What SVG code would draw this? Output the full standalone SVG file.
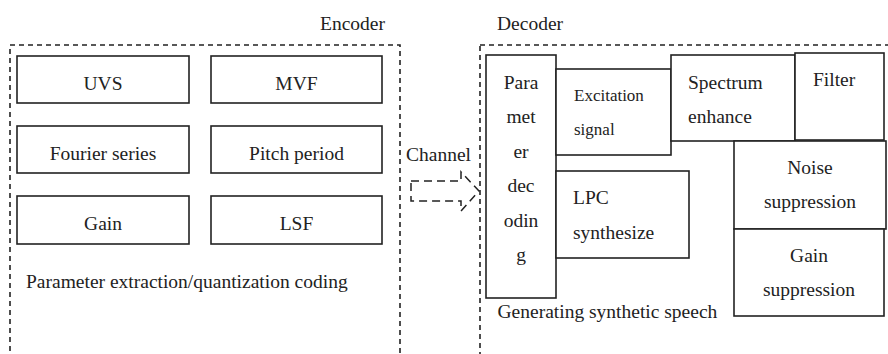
<svg xmlns="http://www.w3.org/2000/svg" width="888" height="354" viewBox="0 0 888 354">
<style>
.t{font-family:'Liberation Serif','Times New Roman',Tinos,'Noto Serif','DejaVu Serif',serif;font-size:19.5px;fill:#222}
.sm{font-family:'Liberation Serif','Times New Roman',Tinos,'Noto Serif','DejaVu Serif',serif;font-size:17px;fill:#222}
.mid{text-anchor:middle}
.box{fill:#fff;stroke:#222;stroke-width:1.6}
.frame{fill:none;stroke:#222;stroke-width:1.6;stroke-dasharray:5 4}
.arrow{fill:none;stroke:#222;stroke-width:1.5;stroke-dasharray:8 5}
</style>
<rect width="888" height="354" fill="#fff"/>
<g id="encoder">
<rect class="frame" x="10" y="45" width="390" height="330"/>
<text class="t" x="320" y="29.5">Encoder</text>
<text class="t" x="26" y="287.5">Parameter extraction/quantization coding</text>
</g>
<g id="uvs"><rect class="box" x="17" y="56" width="172" height="47"/><text class="t mid" x="103" y="89.5">UVS</text></g>
<g id="mvf"><rect class="box" x="211" y="56" width="171" height="47"/><text class="t mid" x="296.5" y="89.5">MVF</text></g>
<g id="fourier"><rect class="box" x="17" y="126" width="172" height="47"/><text class="t mid" x="103" y="159.5">Fourier series</text></g>
<g id="pitch"><rect class="box" x="211" y="126" width="171" height="47"/><text class="t mid" x="296.5" y="159.5">Pitch period</text></g>
<g id="gain"><rect class="box" x="17" y="196" width="172" height="48"/><text class="t mid" x="103" y="229.5">Gain</text></g>
<g id="lsf"><rect class="box" x="211" y="196" width="171" height="48"/><text class="t mid" x="296.5" y="229.5">LSF</text></g>
<g id="decoder">
<rect class="frame" x="480" y="45" width="420" height="330"/>
<text class="t" x="497" y="29.5">Decoder</text>
<text class="t" x="497.5" y="317.5">Generating synthetic speech</text>
</g>
<g id="connectors">
<text class="t" x="406" y="160.5">Channel</text>
<polygon class="arrow" points="411,181 461,181 461,172 479,191 461,211 461,201 411,201"/>
</g>
<g id="param"><rect class="box" x="486" y="55" width="70" height="243"/>
<text class="t mid" x="521" y="88.5">Para</text><text class="t mid" x="521" y="123">met</text><text class="t mid" x="521" y="157.5">er</text><text class="t mid" x="521" y="192">dec</text><text class="t mid" x="521" y="226.5">odin</text><text class="t mid" x="521" y="261">g</text></g>
<g id="excitation"><rect class="box" x="556" y="69" width="115" height="86"/><text class="sm" x="574" y="101">Excitation</text><text class="sm" x="574" y="135">signal</text></g>
<g id="lpc"><rect class="box" x="556" y="171" width="133" height="87"/><text class="t" x="573" y="204">LPC</text><text class="t" x="573" y="238.5">synthesize</text></g>
<g id="spectrum"><rect class="box" x="671" y="55" width="124" height="86"/><text class="t" x="688" y="88.5">Spectrum</text><text class="t" x="688" y="123">enhance</text></g>
<g id="filter"><rect class="box" x="795" y="53" width="89" height="87"/><text class="t" x="813" y="86">Filter</text></g>
<g id="noise"><rect class="box" x="734" y="141" width="152" height="88"/><text class="t mid" x="810" y="173.5">Noise</text><text class="t mid" x="810" y="207.5">suppression</text></g>
<g id="gainsup"><rect class="box" x="734" y="229" width="150" height="87"/><text class="t mid" x="809" y="262">Gain</text><text class="t mid" x="809" y="296">suppression</text></g>
</svg>
